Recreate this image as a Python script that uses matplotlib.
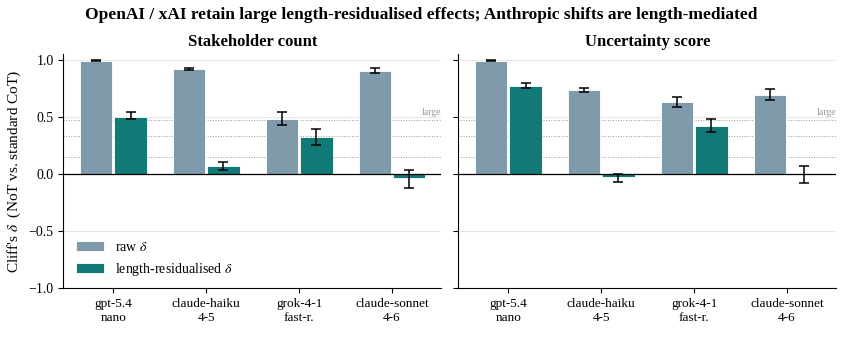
import numpy as np
import matplotlib
matplotlib.use("Agg")
import matplotlib.pyplot as plt

plt.rcParams['font.family'] = ['Liberation Serif', 'DejaVu Serif']
plt.rcParams['mathtext.fontset'] = 'stix'

models = ["gpt-5.4\nnano", "claude-haiku\n4-5", "grok-4-1\nfast-r.", "claude-sonnet\n4-6"]

stake_raw = [0.99, 0.92, 0.48, 0.90]
stake_raw_lo = [0.985, 0.91, 0.43, 0.885]
stake_raw_hi = [0.995, 0.93, 0.545, 0.925]
stake_res = [0.50, 0.065, 0.32, -0.04]
stake_res_lo = [0.48, 0.03, 0.255, -0.12]
stake_res_hi = [0.54, 0.105, 0.39, 0.03]

unc_raw = [0.99, 0.73, 0.625, 0.69]
unc_raw_lo = [0.985, 0.715, 0.585, 0.645]
unc_raw_hi = [0.995, 0.75, 0.67, 0.74]
unc_res = [0.77, -0.025, 0.42, 0.0]
unc_res_lo = [0.75, -0.07, 0.37, -0.08]
unc_res_hi = [0.80, 0.0, 0.48, 0.07]

thresholds = [0.147, 0.33, 0.474]

raw_color = "#7f9aab"
res_color = "#127a76"

fig, axes = plt.subplots(1, 2, figsize=(8.43, 3.48), dpi=100, sharey=True)
fig.subplots_adjust(left=0.075, right=0.992, bottom=0.172, top=0.845, wspace=0.045)

panels = [
    ("Stakeholder count", stake_raw, stake_raw_lo, stake_raw_hi, stake_res, stake_res_lo, stake_res_hi),
    ("Uncertainty score", unc_raw, unc_raw_lo, unc_raw_hi, unc_res, unc_res_lo, unc_res_hi),
]

x = np.arange(len(models))
w = 0.35
for ax, (title, raw, rlo, rhi, res, slo, shi) in zip(axes, panels):
    raw = np.array(raw); res = np.array(res)
    rerr = [raw - np.array(rlo), np.array(rhi) - raw]
    serr = [res - np.array(slo), np.array(shi) - res]
    ax.bar(x - w / 2 - 0.01, raw, w, color=raw_color, edgecolor="white", linewidth=0.6,
           label=r"raw $\delta$", zorder=2)
    ax.bar(x + w / 2 + 0.01, res, w, color=res_color, edgecolor="white", linewidth=0.6,
           label=r"length-residualised $\delta$", zorder=2)
    ax.errorbar(x - w / 2 - 0.01, raw, yerr=rerr, fmt="none", ecolor="black", capsize=3.5,
                elinewidth=1.1, capthick=1.1, zorder=3)
    ax.errorbar(x + w / 2 + 0.01, res, yerr=serr, fmt="none", ecolor="black", capsize=3.5,
                elinewidth=1.1, capthick=1.1, zorder=3)
    for t in thresholds:
        ax.axhline(t, color="#999999", linestyle=":", linewidth=0.7, zorder=1)
    ax.text(3.53, 0.474 + 0.025, "large", ha="right", va="bottom",
            fontsize=7, color="#999999")
    ax.axhline(0, color="black", linewidth=0.9, zorder=2)
    ax.grid(axis="y", color="#e8e8e8", linewidth=0.9, zorder=0)
    ax.set_axisbelow(True)
    ax.set_ylim(-1.0, 1.05)
    ax.set_xlim(-0.54, 3.53)
    ax.set_yticks([-1.0, -0.5, 0.0, 0.5, 1.0])
    ax.set_xticks(x)
    ax.set_xticklabels(models, fontsize=9.5)
    ax.tick_params(axis="y", labelsize=10)
    ax.set_title(title, fontsize=12, fontweight="bold", pad=6)
    for s in ["top", "right"]:
        ax.spines[s].set_visible(False)

axes[0].set_ylabel(r"Cliff's $\delta$  (NoT vs. standard CoT)", fontsize=11)
axes[0].legend(loc="lower left", frameon=False, fontsize=10, bbox_to_anchor=(0.0, -0.01))

fig.suptitle("OpenAI / xAI retain large length-residualised effects; Anthropic shifts are length-mediated",
             fontsize=12.5, fontweight="bold", y=0.98)

fig.savefig("out.png", dpi=100)
